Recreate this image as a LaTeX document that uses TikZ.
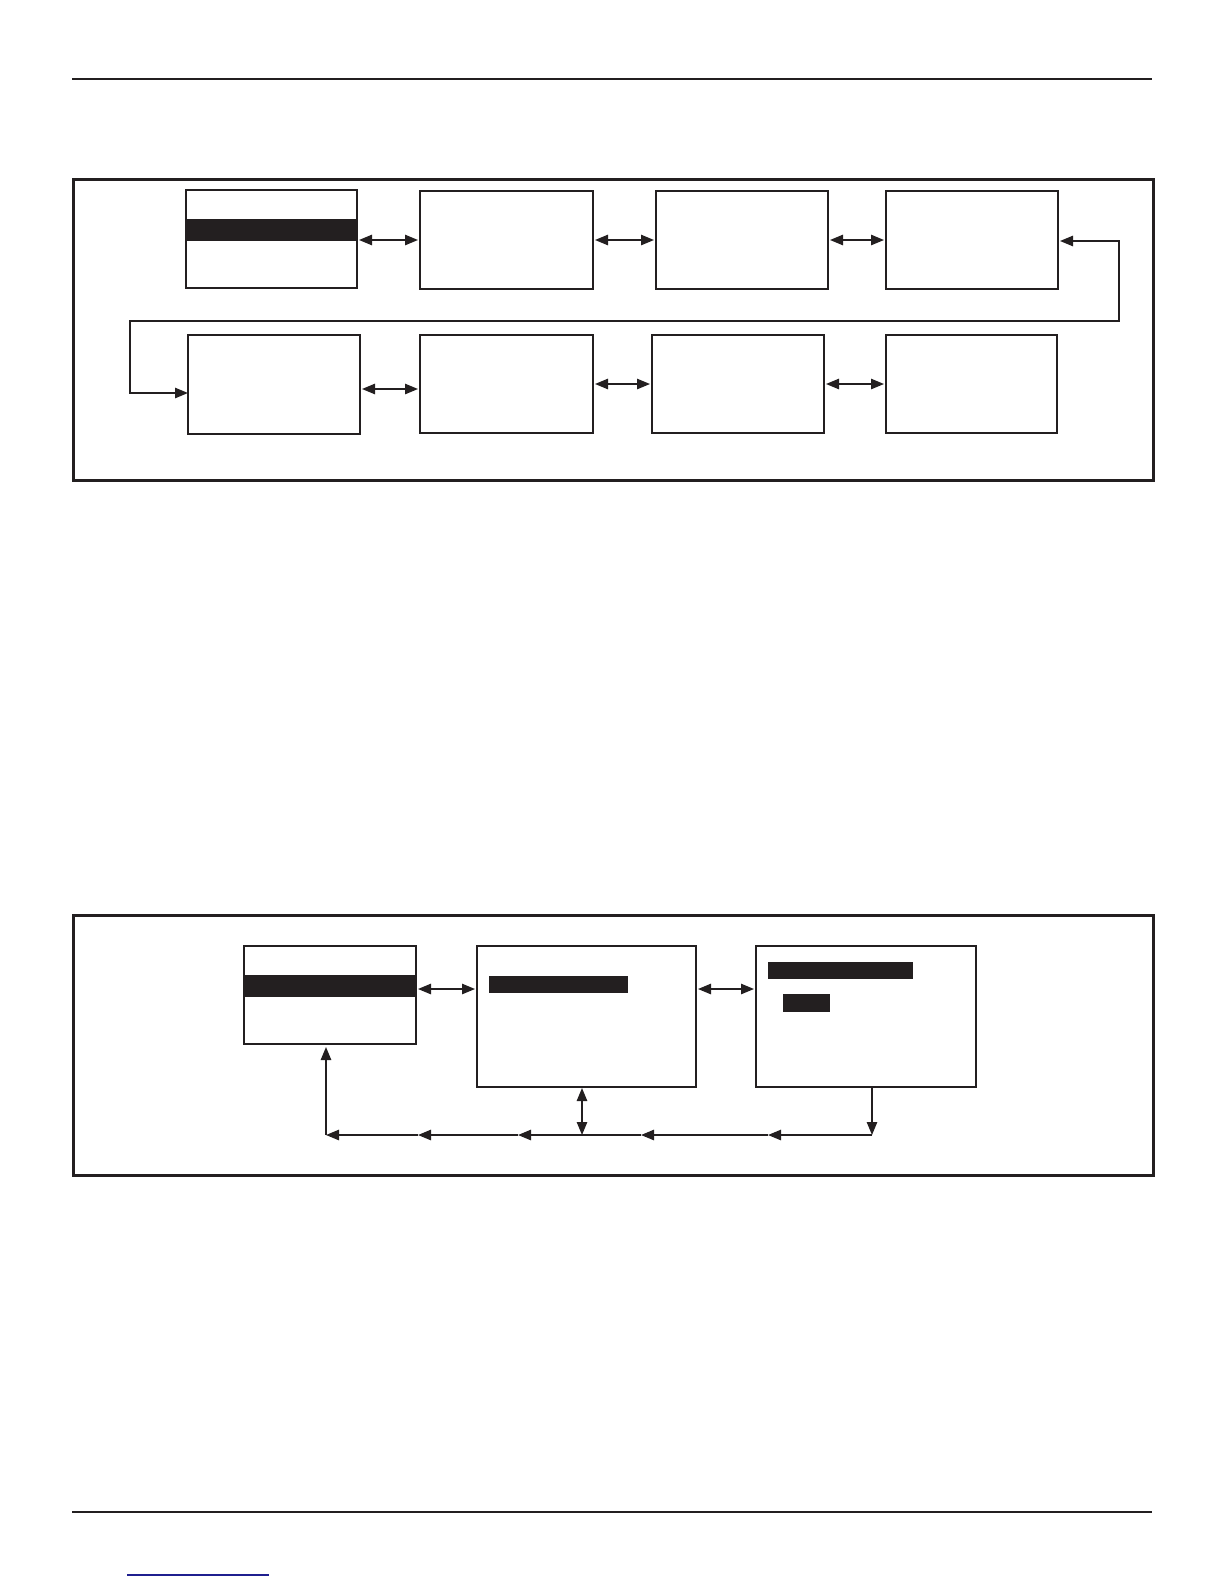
\documentclass[tikz,border=0pt]{standalone}
\usetikzlibrary{arrows.meta,fit}
\definecolor{ink}{HTML}{231F20}
\definecolor{linkblue}{HTML}{1F1F8F}
\tikzset{
  box/.style={draw=ink, line width=0.8pt, inner sep=0pt, outer sep=0pt},
  frame/.style={draw=ink, line width=1.5pt},
  rule/.style={draw=ink, line width=1.1pt},
  bar/.style={fill=ink},
  tri/.tip={Triangle[length=6.5pt,width=5.2pt]},
  conn/.style={draw=ink, line width=0.7pt},
  arr/.style={conn, -tri},
  dbl/.style={conn, tri-tri, shorten <=1pt, shorten >=1pt},
}
\begin{document}
\begin{tikzpicture}[x=0.5pt,y=-0.5pt]
\useasboundingbox (0,0) rectangle (1224,1584);
% page rules
\draw[rule] (72,79) -- (1152,79);
\draw[rule] (72,1512) -- (1152,1512);
\draw[linkblue, line width=0.6pt] (127,1575) -- (269,1575);

% ===== top frame =====
\draw[frame] (73,179) rectangle (1153,480);
\node[box, fit={(186,190) (357,288)}] (t1) {};
\fill[bar] (186,219) rectangle (357,241);
\node[box, fit={(420,191) (593,289)}] (t2) {};
\node[box, fit={(656,191) (828,289)}] (t3) {};
\node[box, fit={(886,191) (1058,289)}] (t4) {};
\node[box, fit={(188,335) (360,434)}] (t5) {};
\node[box, fit={(420,335) (593,433)}] (t6) {};
\node[box, fit={(652,335) (824,433)}] (t7) {};
\node[box, fit={(886,335) (1057,433)}] (t8) {};

\draw[dbl] (t1.east |- 0,240) -- (t2.west |- 0,240);
\draw[dbl] (t2.east |- 0,240) -- (t3.west |- 0,240);
\draw[dbl] (t3.east |- 0,240) -- (t4.west |- 0,240);
\draw[dbl] (t5.east |- 0,389) -- (t6.west |- 0,389);
\draw[dbl] (t6.east |- 0,384) -- (t7.west |- 0,384);
\draw[dbl] (t7.east |- 0,384) -- (t8.west |- 0,384);

\coordinate (lp1) at (1119,241);
\coordinate (lp2) at (1119,321);
\coordinate (lp3) at (130,321);
\coordinate (lp4) at (130,393);
\draw[conn, tri-tri, shorten <=1pt] (t4.east |- lp1) -- (lp1) -- (lp2) -- (lp3) -- (lp4) -- (t5.west |- lp4);

% ===== bottom frame =====
\draw[frame] (73,915) rectangle (1153,1175);
\node[box, fit={(244,946) (416,1044)}] (bA) {};
\fill[bar] (244,975) rectangle (416,997);
\node[box, fit={(477,946) (696,1087)}] (bB) {};
\fill[bar] (489,976) rectangle (628,993);
\node[box, fit={(756,946) (976,1087)}] (bC) {};
\fill[bar] (768,962) rectangle (913,979);
\fill[bar] (783,994) rectangle (830,1012);

\draw[dbl] (bA.east |- 0,989) -- (bB.west |- 0,989);
\draw[dbl] (bB.east |- 0,989) -- (bC.west |- 0,989);

\coordinate (cR) at (872,1135);
\coordinate (m1) at (768,1135);
\coordinate (m2) at (641,1135);
\coordinate (cM) at (582,1135);
\coordinate (m3) at (518,1135);
\coordinate (m4) at (418,1135);
\coordinate (cL) at (326,1135);
\draw[arr] (bC.south -| cR) -- (cR);
\draw[arr] (cR) -- (m1);
\draw[arr] (m1) -- (m2);
\draw[arr] (m2) -- (m3);
\draw[arr] (m3) -- (m4);
\draw[arr] (m4) -- (cL);
\draw[arr, shorten >=1.5pt] (cL) -- (bA.south -| cL);
\draw[conn, tri-tri, shorten <=0.5pt] (bB.south -| cM) -- (cM);
\end{tikzpicture}
\end{document}
